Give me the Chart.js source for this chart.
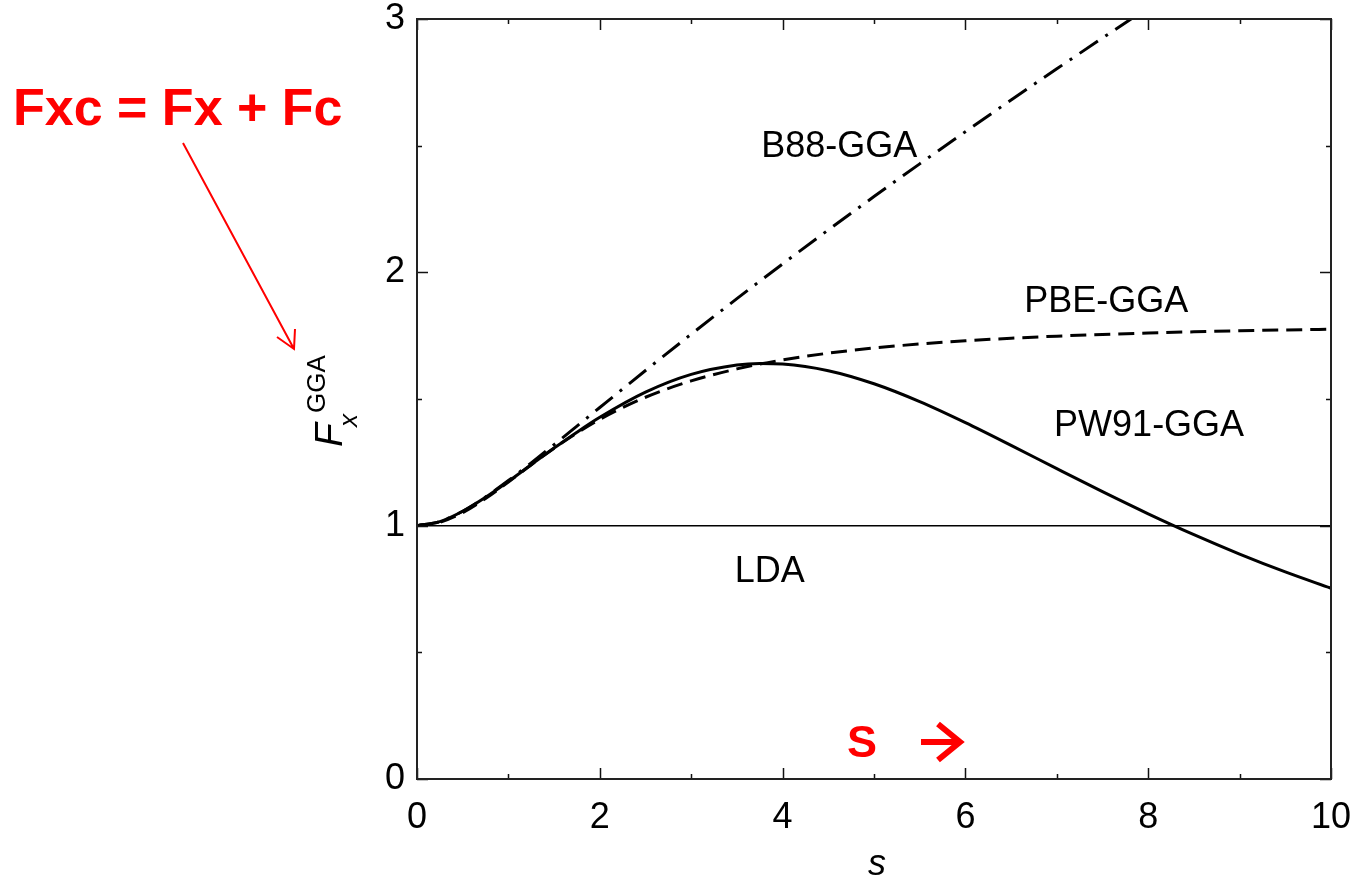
<!DOCTYPE html>
<html>
<head>
<meta charset="utf-8">
<script src="https://cdn.jsdelivr.net/npm/chart.js@4.4.0/dist/chart.umd.min.js"></script>
<style>
    html, body { margin: 0; padding: 0; background: #fff; }
    #wrap { width: 1356px; height: 880px; }
</style>
</head>
<body>
<div id="wrap"><canvas id="fxChart" width="1356" height="880"></canvas></div>
<script>
// reduced gradient s and enhancement factor F_x
const sValues = [0, 0.25, 0.5, 0.75, 1, 1.25, 1.5, 1.75, 2, 2.5, 3, 3.5, 3.75, 4, 4.5, 5, 5.5, 6, 6.5, 7, 7.5, 8, 8.5, 9, 9.5, 10];
const pw91 = [1.0000, 1.0160, 1.0568, 1.1121, 1.1750, 1.2408, 1.3062, 1.3690, 1.4277, 1.5272, 1.5973, 1.6344, 1.6404, 1.6382, 1.6118, 1.5602, 1.4897, 1.4067, 1.3169, 1.2249, 1.1342, 1.0469, 0.9646, 0.8881, 0.8176, 0.7531];
const pbe = [1.0000, 1.0135, 1.0514, 1.1070, 1.1724, 1.2404, 1.3060, 1.3661, 1.4197, 1.5069, 1.5714, 1.6189, 1.6379, 1.6542, 1.6809, 1.7013, 1.7172, 1.7298, 1.7399, 1.7481, 1.7549, 1.7605, 1.7652, 1.7692, 1.7726, 1.7756];
const b88 = [1.0000, 1.0160, 1.0570, 1.1132, 1.1781, 1.2478, 1.3199, 1.3931, 1.4665, 1.6124, 1.7558, 1.8960, 1.9650, 2.0331, 2.1674, 2.2990, 2.4282, 2.5552, 2.6802, 2.8034, 2.9249, 3.0449, 3.1635, 3.2809, 3.3970, 3.5121];
const ldaS = [0, 10];
const lda = [1, 1];

const xTickLabels = ['0', '2', '4', '6', '8', '10'];
const yTickLabels = ['0', '1', '2', '3'];

// curve names, placed in data units
const curveLabels = [
    { text: 'B88-GGA', s: 4.62, f: 2.456 },
    { text: 'PBE-GGA', s: 7.54, f: 1.843 },
    { text: 'PW91-GGA', s: 8.01, f: 1.354 },
    { text: 'LDA', s: 3.86, f: 0.778 }
];

const FONT = '"Liberation Sans", Arial, Helvetica, sans-serif';
const toPoints = (xs, ys) => xs.map((x, i) => ({ x: x, y: ys[i] }));

const frameTicks = {
    id: 'frameTicks',
    afterDatasetsDraw(chart) {
        const { ctx, chartArea: a, scales: { x, y } } = chart;
        ctx.save();
        ctx.strokeStyle = '#111';
        ctx.lineWidth = 1.5;
        ctx.beginPath();
        x.ticks.forEach(t => {
            const px = Math.round(x.getPixelForValue(t.value)) + 0.5;
            const len = xTickLabels.includes(String(t.value)) ? 11 : 5;
            ctx.moveTo(px, a.bottom); ctx.lineTo(px, a.bottom - len);
            ctx.moveTo(px, a.top); ctx.lineTo(px, a.top + len);
        });
        y.ticks.forEach(t => {
            const py = Math.round(y.getPixelForValue(t.value)) + 0.5;
            const len = yTickLabels.includes(String(t.value)) ? 11 : 5;
            ctx.moveTo(a.left, py); ctx.lineTo(a.left + len, py);
            ctx.moveTo(a.right, py); ctx.lineTo(a.right - len, py);
        });
        ctx.stroke();
        ctx.lineWidth = 2;
        ctx.strokeStyle = '#222';
        ctx.strokeRect(a.left, a.top, a.right - a.left, a.bottom - a.top);

        // curve names
        ctx.fillStyle = '#000';
        ctx.font = '36px ' + FONT;
        ctx.textAlign = 'center';
        ctx.textBaseline = 'alphabetic';
        curveLabels.forEach(l => {
            ctx.fillText(l.text, x.getPixelForValue(l.s), y.getPixelForValue(l.f));
        });

        // x axis title
        ctx.font = 'italic 36px ' + FONT;
        ctx.fillText('s', (a.left + a.right) / 2 + 3, 875);

        // y axis title F_x^GGA, rotated
        ctx.save();
        ctx.translate(342, 447);
        ctx.rotate(-Math.PI / 2);
        ctx.textAlign = 'left';
        ctx.font = 'italic 39px ' + FONT;
        ctx.fillText('F', 0, 0);
        ctx.font = 'italic 26px ' + FONT;
        ctx.fillText('x', 20, 15);
        ctx.font = '26px ' + FONT;
        ctx.fillText('GGA', 34, -17);
        ctx.restore();
        ctx.restore();
    },
    afterDraw(chart) {
        const { ctx } = chart;
        ctx.save();
        ctx.fillStyle = '#ff0000';
        ctx.strokeStyle = '#ff0000';
        ctx.textAlign = 'left';
        ctx.textBaseline = 'alphabetic';
        ctx.font = 'bold 52px ' + FONT;
        ctx.fillText('Fxc = Fx + Fc', 13, 125);

        // thin arrow to the axis label
        ctx.lineWidth = 2;
        ctx.beginPath();
        ctx.moveTo(183, 143); ctx.lineTo(294, 349);
        ctx.moveTo(277, 337); ctx.lineTo(294, 349);
        ctx.lineTo(295, 329);
        ctx.stroke();

        // S ->
        ctx.font = 'bold 45px ' + FONT;
        ctx.fillText('S', 847, 757);
        ctx.lineWidth = 6;
        ctx.lineCap = 'butt';
        ctx.beginPath();
        ctx.moveTo(921, 742); ctx.lineTo(960, 742);
        ctx.moveTo(938, 724); ctx.lineTo(960, 742); ctx.lineTo(938, 760);
        ctx.stroke();
        ctx.restore();
    }
};

const ctx = document.getElementById('fxChart').getContext('2d');
new Chart(ctx, {
    type: 'line',
    data: {
        datasets: [
            {
                label: 'LDA',
                data: toPoints(ldaS, lda),
                borderColor: '#000',
                borderWidth: 1.5,
                pointRadius: 0
            },
            {
                label: 'B88-GGA',
                data: toPoints(sValues, b88),
                borderColor: '#000',
                borderWidth: 3,
                borderDash: [22, 9, 3, 9],
                pointRadius: 0,
                cubicInterpolationMode: 'monotone'
            },
            {
                label: 'PBE-GGA',
                data: toPoints(sValues, pbe),
                borderColor: '#000',
                borderWidth: 3,
                borderDash: [16, 8],
                pointRadius: 0,
                cubicInterpolationMode: 'monotone'
            },
            {
                label: 'PW91-GGA',
                data: toPoints(sValues, pw91),
                borderColor: '#000',
                borderWidth: 3,
                pointRadius: 0,
                cubicInterpolationMode: 'monotone'
            }
        ]
    },
    options: {
        responsive: false,
        animation: false,
        devicePixelRatio: 1,
        layout: { padding: { top: 19, right: 25, left: 0, bottom: 0 } },
        plugins: {
            legend: { display: false },
            tooltip: { enabled: false }
        },
        scales: {
            x: {
                type: 'linear',
                min: 0,
                max: 10,
                grid: { display: false, drawTicks: false },
                border: { display: false },
                ticks: {
                    stepSize: 1,
                    autoSkip: false,
                    maxRotation: 0,
                    padding: 17,
                    color: '#000',
                    font: { family: FONT, size: 36 },
                    callback: v => xTickLabels.includes(String(v)) ? String(v) : ''
                },
                afterFit: scale => {
                    scale.height = 101;
                    scale.paddingLeft = 0;
                    scale.paddingRight = 0;
                }
            },
            y: {
                min: 0,
                max: 3,
                grid: { display: false, drawTicks: false },
                border: { display: false },
                ticks: {
                    stepSize: 0.5,
                    autoSkip: false,
                    padding: 12,
                    color: '#000',
                    font: { family: FONT, size: 36 },
                    callback: v => yTickLabels.includes(String(v)) ? String(v) : ''
                },
                afterFit: scale => {
                    scale.width = 417;
                    scale.paddingTop = 0;
                    scale.paddingBottom = 0;
                }
            }
        }
    },
    plugins: [frameTicks]
});
</script>
</body>
</html>
